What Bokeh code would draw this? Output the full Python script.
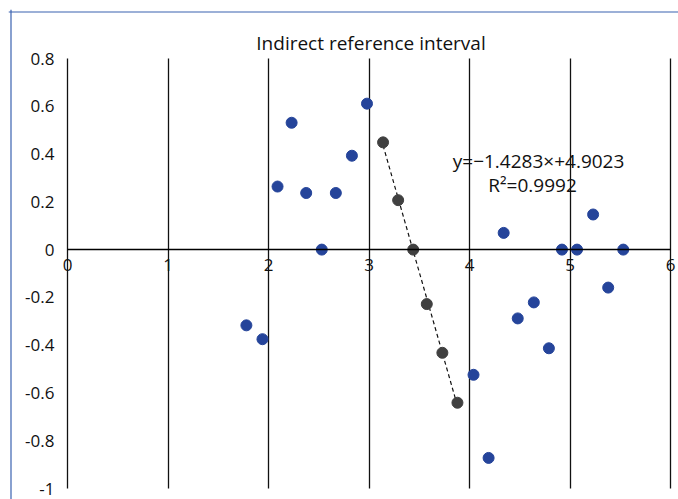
from bokeh.plotting import figure
from bokeh.models import Range1d, FixedTicker, Label, Span
from bokeh.embed import file_html
from bokeh.resources import INLINE
import numpy as np

chart_title = "Indirect reference interval"
blue_x = [1.78, 1.94, 2.09, 2.23, 2.375, 2.53, 2.67, 2.83, 2.98,
          4.04, 4.19, 4.34, 4.48, 4.64, 4.79, 4.92, 5.07, 5.23, 5.38, 5.53]
blue_y = [-0.317, -0.375, 0.264, 0.531, 0.237, 0.0, 0.237, 0.393, 0.611,
          -0.524, -0.872, 0.070, -0.288, -0.221, -0.413, 0.0, 0.0, 0.147, -0.159, 0.0]
gray_x = [3.14, 3.29, 3.44, 3.575, 3.73, 3.88]
gray_y = [0.449, 0.207, 0.0, -0.228, -0.432, -0.641]
x_ticks = [0, 1, 2, 3, 4, 5, 6]
y_ticks = [0.8, 0.6, 0.4, 0.2, 0, -0.2, -0.4, -0.6, -0.8, -1]
y_tick_labels = ["0.8", "0.6", "0.4", "0.2", "0", "-0.2", "-0.4", "-0.6", "-0.8", "-1"]
equation_text = "y=\u22121.4283\u00d7+4.9023"
r2_text = "R\u00b2=0.9992"

FONT = "Open Sans"
BLUE = "#25449a"
GRAY = "#404040"
TEXT = "#111111"
BORDER = "#3a62b0"

# layout (pixels)
W, H = 678, 499
FRAME_LEFT, FRAME_TOP = 8, 9          # plotting frame starts a little left/up of the border
BORDER_X, BORDER_Y = 10.5, 11.5       # the blue chart border (left and top edges)
X0_PX, X6_PX = 67, 670                # where x = 0 and x = 6 fall
YT_PX, YB_PX = 58, 488                # where y = 0.8 and y = -1 fall
xmin, xmax = min(x_ticks), max(x_ticks)
ymin, ymax = min(y_ticks), max(y_ticks)
ppx = (X6_PX - X0_PX) / (xmax - xmin)
ppy = (YB_PX - YT_PX) / (ymax - ymin)
x_range = Range1d(xmin - (X0_PX - FRAME_LEFT) / ppx, xmax + (W - X6_PX) / ppx)
y_range = Range1d(ymin - (H - YB_PX) / ppy, ymax + (YT_PX - FRAME_TOP) / ppy)

p = figure(width=W, height=H, output_backend="svg", toolbar_location=None,
           x_range=x_range, y_range=y_range,
           min_border_left=FRAME_LEFT, min_border_right=0, min_border_top=FRAME_TOP, min_border_bottom=0)
p.outline_line_color = None
p.background_fill_color = "white"
p.border_fill_color = "white"

# blue chart border: left and top edges
p.add_layout(Span(location=xmin - (X0_PX - BORDER_X) / ppx, dimension="height",
                  line_color=BORDER, line_width=1.2))
p.add_layout(Span(location=ymax + (YT_PX - BORDER_Y) / ppy, dimension="width",
                  line_color=BORDER, line_width=1.2))

# x axis drawn at y = 0
p.xaxis.fixed_location = 0
p.xaxis.bounds = (xmin, xmax)
p.xaxis.ticker = FixedTicker(ticks=x_ticks)
p.xaxis.axis_line_color = "#000000"
p.xaxis.axis_line_width = 1.5
p.xaxis.major_tick_out = 0
p.xaxis.major_tick_in = 0
p.xaxis.minor_tick_line_color = None
p.xaxis.major_label_standoff = 9
p.xaxis.major_label_text_font = FONT
p.xaxis.major_label_text_font_size = "17px"
p.xaxis.major_label_text_color = TEXT

# y axis labels drawn left of x = 0
p.yaxis.fixed_location = 0
p.yaxis.bounds = (ymin, ymax)
p.yaxis.ticker = FixedTicker(ticks=y_ticks)
p.yaxis.major_label_overrides = {t: l for t, l in zip(y_ticks, y_tick_labels)}
p.yaxis.axis_line_color = None
p.yaxis.major_tick_line_color = None
p.yaxis.minor_tick_line_color = None
p.yaxis.major_tick_out = 0
p.yaxis.major_tick_in = 0
p.yaxis.major_label_standoff = 13
p.yaxis.major_label_text_font = FONT
p.yaxis.major_label_text_font_size = "17px"
p.yaxis.major_label_text_color = TEXT

p.xgrid.ticker = FixedTicker(ticks=x_ticks)
p.xgrid.cross_bounds = (ymin, ymax)
p.xgrid.grid_line_color = "#111111"
p.xgrid.grid_line_width = 1.3
p.ygrid.grid_line_color = None

# trendline fitted on the gray points
slope, intercept = np.polyfit(gray_x, gray_y, 1)
tx = np.array([min(gray_x), max(gray_x)])
p.line(tx, slope * tx + intercept, line_color="#111111", line_width=1.2, line_dash="4 3")

p.scatter(blue_x, blue_y, size=11, fill_color=BLUE, line_color=BLUE)
p.scatter(gray_x, gray_y, size=11, fill_color=GRAY, line_color=GRAY)

p.add_layout(Label(x=3.02, y=0.866, text=chart_title, text_align="center", text_baseline="alphabetic",
                   text_font=FONT, text_font_size="19px", text_color=TEXT))
p.add_layout(Label(x=4.687, y=0.370, text=equation_text, text_align="center", text_baseline="alphabetic",
                   text_font=FONT, text_font_size="19px", text_color=TEXT))
p.add_layout(Label(x=4.627, y=0.271, text=r2_text, text_align="center", text_baseline="alphabetic",
                   text_font=FONT, text_font_size="19px", text_color=TEXT))

open("out.html", "w").write(file_html(p, INLINE))
